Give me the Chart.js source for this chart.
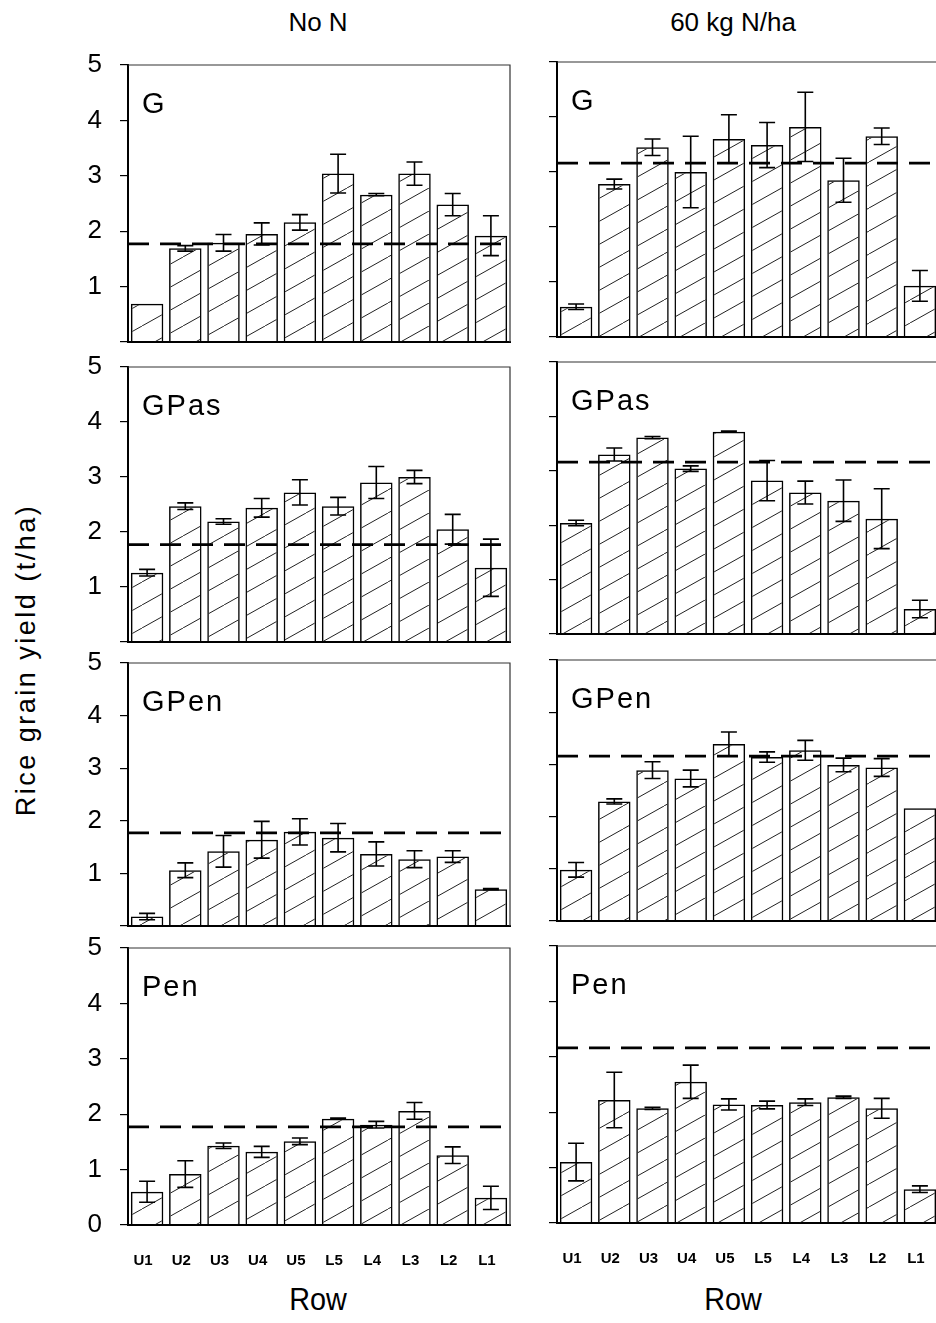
<!DOCTYPE html>
<html>
<head>
<meta charset="utf-8">
<script src="https://cdn.jsdelivr.net/npm/chart.js@4.4.1/dist/chart.umd.min.js"></script>
<style>
  html, body { margin: 0; padding: 0; background: #fff; }
  body { width: 936px; height: 1323px; position: relative; overflow: hidden; font-family: "Liberation Sans", Arial, sans-serif; color: #000; }
  canvas { position: absolute; }
  .head { position: absolute; top: 22px; font-size: 26px; transform: translate(-50%, -50%); white-space: nowrap; }
  .row { position: absolute; top: 1299px; font-size: 32px; transform: translate(-50%, -50%) scaleX(0.9); white-space: nowrap; }
  .ytitle { position: absolute; left: 26px; top: 660px; font-size: 27px; letter-spacing: 2.5px; white-space: nowrap;
            transform: translate(-50%, -50%) rotate(-90deg); }
</style>
</head>
<body>
<div class="head" style="left:318px">No N</div>
<div class="head" style="left:733px">60 kg N/ha</div>
<div class="row" style="left:318px">Row</div>
<div class="row" style="left:733px">Row</div>
<div class="ytitle">Rice grain yield (t/ha)</div>
<script>
// Data
const rows = ['U1', 'U2', 'U3', 'U4', 'U5', 'L5', 'L4', 'L3', 'L2', 'L1'];
const yTicks = [0, 1, 2, 3, 4, 5];
const treatments = ['G', 'GPas', 'GPen', 'Pen'];
const refYield = [1.77, 3.16]; // dashed line: No N, 60 kg N/ha

const noN_G = [0.69, 1.69, 1.79, 1.95, 2.16, 3.04, 2.66, 3.04, 2.48, 1.92];
const noN_G_err = [0, 0.05, 0.15, 0.2, 0.14, 0.35, 0.02, 0.21, 0.2, 0.36];
const n60_G = [0.55, 2.78, 3.45, 3.0, 3.6, 3.49, 3.82, 2.85, 3.65, 0.93];
const n60_G_err = [0.05, 0.09, 0.15, 0.65, 0.44, 0.41, 0.63, 0.4, 0.15, 0.28];

const noN_GPas = [1.26, 2.47, 2.19, 2.44, 2.72, 2.47, 2.9, 3.0, 2.05, 1.35];
const noN_GPas_err = [0.06, 0.06, 0.05, 0.17, 0.23, 0.16, 0.29, 0.12, 0.27, 0.52];
const n60_GPas = [2.04, 3.3, 3.61, 3.04, 3.72, 2.82, 2.6, 2.45, 2.12, 0.46];
const n60_GPas_err = [0.05, 0.12, 0.02, 0.05, 0.01, 0.37, 0.21, 0.38, 0.55, 0.16];

const noN_GPen = [0.18, 1.06, 1.42, 1.64, 1.79, 1.68, 1.37, 1.27, 1.32, 0.7];
const noN_GPen_err = [0.06, 0.14, 0.3, 0.35, 0.25, 0.27, 0.23, 0.16, 0.11, 0.01];
const n60_GPen = [0.98, 2.29, 2.89, 2.73, 3.39, 3.14, 3.27, 2.99, 2.94, 2.16];
const n60_GPen_err = [0.14, 0.05, 0.16, 0.16, 0.23, 0.1, 0.19, 0.13, 0.17, 0];

const noN_Pen = [0.6, 0.92, 1.43, 1.32, 1.51, 1.92, 1.81, 2.06, 1.26, 0.49];
const noN_Pen_err = [0.19, 0.24, 0.05, 0.1, 0.06, 0.01, 0.06, 0.15, 0.15, 0.21];
const n60_Pen = [1.1, 2.22, 2.07, 2.55, 2.14, 2.13, 2.18, 2.27, 2.07, 0.61];
const n60_Pen_err = [0.34, 0.5, 0.02, 0.3, 0.1, 0.07, 0.06, 0.02, 0.18, 0.06];

const yields = [[noN_G, n60_G], [noN_GPas, n60_GPas], [noN_GPen, n60_GPen], [noN_Pen, n60_Pen]];
const errors = [[noN_G_err, n60_G_err], [noN_GPas_err, n60_GPas_err], [noN_GPen_err, n60_GPen_err], [noN_Pen_err, n60_Pen_err]];

// Layout of the plot areas (top/bottom of each panel row, per column)
const colLayout = [
  { canvasLeft: 60, canvasWidth: 460, axisWidth: 68, padRight: 10 },
  { canvasLeft: 500, canvasWidth: 439, axisWidth: 57, padRight: 0 }
];
const panelTops = [[65, 367, 663, 948], [62, 362, 660, 946]];
const panelBottoms = [[342, 642, 926, 1225], [337, 634, 921, 1223]];

function hatch(ctx) {
  const c = document.createElement('canvas');
  c.width = 41; c.height = 23;
  const g = c.getContext('2d');
  g.strokeStyle = '#222';
  g.lineWidth = 1;
  g.beginPath();
  g.moveTo(-41, 46);
  g.lineTo(82, -23);
  g.stroke();
  return ctx.createPattern(c, 'repeat');
}

// frame, error bars, reference line and panel label
const panelDecor = {
  id: 'panelDecor',
  afterDatasetsDraw(chart, args, opts) {
    const { ctx, chartArea: a, scales: { y } } = chart;
    const vals = chart.data.datasets[0].data;
    const meta = chart.getDatasetMeta(0);
    ctx.save();
    ctx.strokeStyle = '#333';
    ctx.lineWidth = 1.2;
    ctx.beginPath();
    ctx.moveTo(a.left, a.top);
    ctx.lineTo(a.right, a.top);
    ctx.lineTo(a.right, a.bottom);
    ctx.stroke();

    ctx.strokeStyle = '#000';
    ctx.lineWidth = 1.6;
    opts.err.forEach((e, i) => {
      if (!e) return;
      const px = meta.data[i].x;
      const hi = y.getPixelForValue(vals[i] + e);
      const lo = y.getPixelForValue(vals[i] - e);
      ctx.beginPath();
      ctx.moveTo(px, hi); ctx.lineTo(px, lo);
      ctx.moveTo(px - 8, hi); ctx.lineTo(px + 8, hi);
      ctx.moveTo(px - 8, lo); ctx.lineTo(px + 8, lo);
      ctx.stroke();
    });

    const ry = y.getPixelForValue(opts.ref);
    ctx.setLineDash([21, 11]);
    ctx.lineWidth = 2.8;
    ctx.beginPath();
    ctx.moveTo(a.left, ry);
    ctx.lineTo(a.right, ry);
    ctx.stroke();
    ctx.setLineDash([]);

    ctx.fillStyle = '#000';
    ctx.font = '29px "Liberation Sans", Arial, sans-serif';
    ctx.letterSpacing = '2px';
    ctx.textBaseline = 'alphabetic';
    ctx.fillText(opts.label, a.left + 14, a.top + 48);
    ctx.restore();
  }
};

function noScalePadding(s) {
  s.paddingTop = 0;
  s.paddingBottom = 0;
  s.paddingLeft = 0;
  s.paddingRight = 0;
}

treatments.forEach((label, r) => {
  [0, 1].forEach(col => {
    const L = colLayout[col];
    const top = panelTops[col][r], bottom = panelBottoms[col][r];
    const isBottom = r === treatments.length - 1;
    const xHeight = isBottom ? 60 : 0;

    const canvas = document.createElement('canvas');
    canvas.width = L.canvasWidth;
    canvas.height = (bottom - top) + 15 + (isBottom ? xHeight : 15);
    canvas.style.left = L.canvasLeft + 'px';
    canvas.style.top = (top - 15) + 'px';
    document.body.appendChild(canvas);
    const ctx = canvas.getContext('2d');

    new Chart(ctx, {
      type: 'bar',
      data: {
        labels: rows,
        datasets: [{
          data: yields[r][col],
          backgroundColor: hatch(ctx),
          borderColor: '#000',
          borderWidth: 1.5,
          borderSkipped: 'bottom',
          barPercentage: 0.85,
          categoryPercentage: 1
        }]
      },
      options: {
        responsive: false,
        animation: false,
        layout: { padding: { top: 15, bottom: isBottom ? 0 : 15, left: 0, right: L.padRight } },
        plugins: {
          legend: { display: false },
          tooltip: { enabled: false },
          panelDecor: { err: errors[r][col], ref: refYield[col], label: label }
        },
        scales: {
          x: {
            offset: true,
            grid: { display: false, drawTicks: false },
            border: { display: true, color: '#000', width: 2 },
            ticks: {
              display: isBottom,
              autoSkip: false,
              maxRotation: 0,
              padding: 27,
              labelOffset: -4,
              color: '#000',
              font: { family: '"Liberation Sans Narrow", "Liberation Sans", Arial, sans-serif', size: 15, weight: 'bold' }
            },
            afterFit(s) { s.height = xHeight; noScalePadding(s); }
          },
          y: {
            min: yTicks[0],
            max: yTicks[yTicks.length - 1],
            afterBuildTicks(s) { s.ticks = yTicks.map(v => ({ value: v })); },
            grid: { drawOnChartArea: false, drawTicks: true, tickLength: 8, color: '#000', lineWidth: 1.2 },
            border: { display: true, color: '#000', width: 2 },
            ticks: {
              padding: 18,
              color: '#000',
              font: { family: '"Liberation Sans", Arial, sans-serif', size: 26 },
              callback: v => (col === 1 || (v === 0 && !isBottom)) ? '' : String(v)
            },
            afterFit(s) { s.width = L.axisWidth; noScalePadding(s); }
          }
        }
      },
      plugins: [panelDecor]
    });
  });
});
</script>
</body>
</html>
